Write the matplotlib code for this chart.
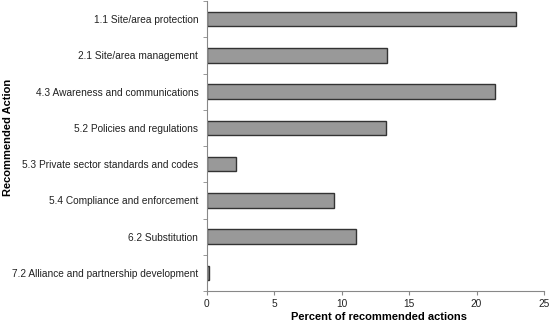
import matplotlib
matplotlib.use('Agg')
import matplotlib.pyplot as plt
import numpy as np

plt.rcParams['font.family'] = ['Liberation Sans', 'DejaVu Sans']

actions = ['1.1 Site/area protection', '2.1 Site/area management',
           '4.3 Awareness and communications', '5.2 Policies and regulations',
           '5.3 Private sector standards and codes', '5.4 Compliance and enforcement',
           '6.2 Substitution', '7.2 Alliance and partnership development']
percent = [22.9, 13.4, 21.4, 13.3, 2.2, 9.4, 11.1, 0.2]

fig = plt.figure(figsize=(5.5, 3.24), dpi=100)
ax = fig.add_axes([206.7 / 550, 1 - 291 / 324, (544 - 206.7) / 550, 290 / 324])

y = np.arange(len(actions))
ax.barh(y, percent, height=0.4, color='#999999', edgecolor='#333333', linewidth=1)
ax.set_ylim(len(actions) - 0.5, -0.5)
ax.set_yticks(y)
ax.set_yticklabels(actions, fontsize=7.3, color='#222222')
ax.set_yticks(np.arange(len(actions) + 1) - 0.5, minor=True)
ax.tick_params(axis='y', which='major', length=0, pad=6)
ax.tick_params(axis='y', which='minor', length=3, color='#888888')
ax.set_xlim(0, 25)
ax.set_xticks(range(0, 26, 5))
ax.tick_params(axis='x', labelsize=7.3, length=3, color='#888888', pad=3, labelcolor='#222222')
ax.spines['top'].set_visible(False)
ax.spines['right'].set_visible(False)
ax.spines['left'].set_color('#888888')
ax.spines['bottom'].set_color('#888888')
ax.set_xlabel('Percent of recommended actions', fontsize=8, fontweight='bold')
ax.set_ylabel('Recommended Action', fontsize=8, fontweight='bold')
ax.xaxis.set_label_coords(0.51, -0.072)
ax.yaxis.set_label_coords(-0.575, 0.53)

fig.savefig('out.png', dpi=100)
